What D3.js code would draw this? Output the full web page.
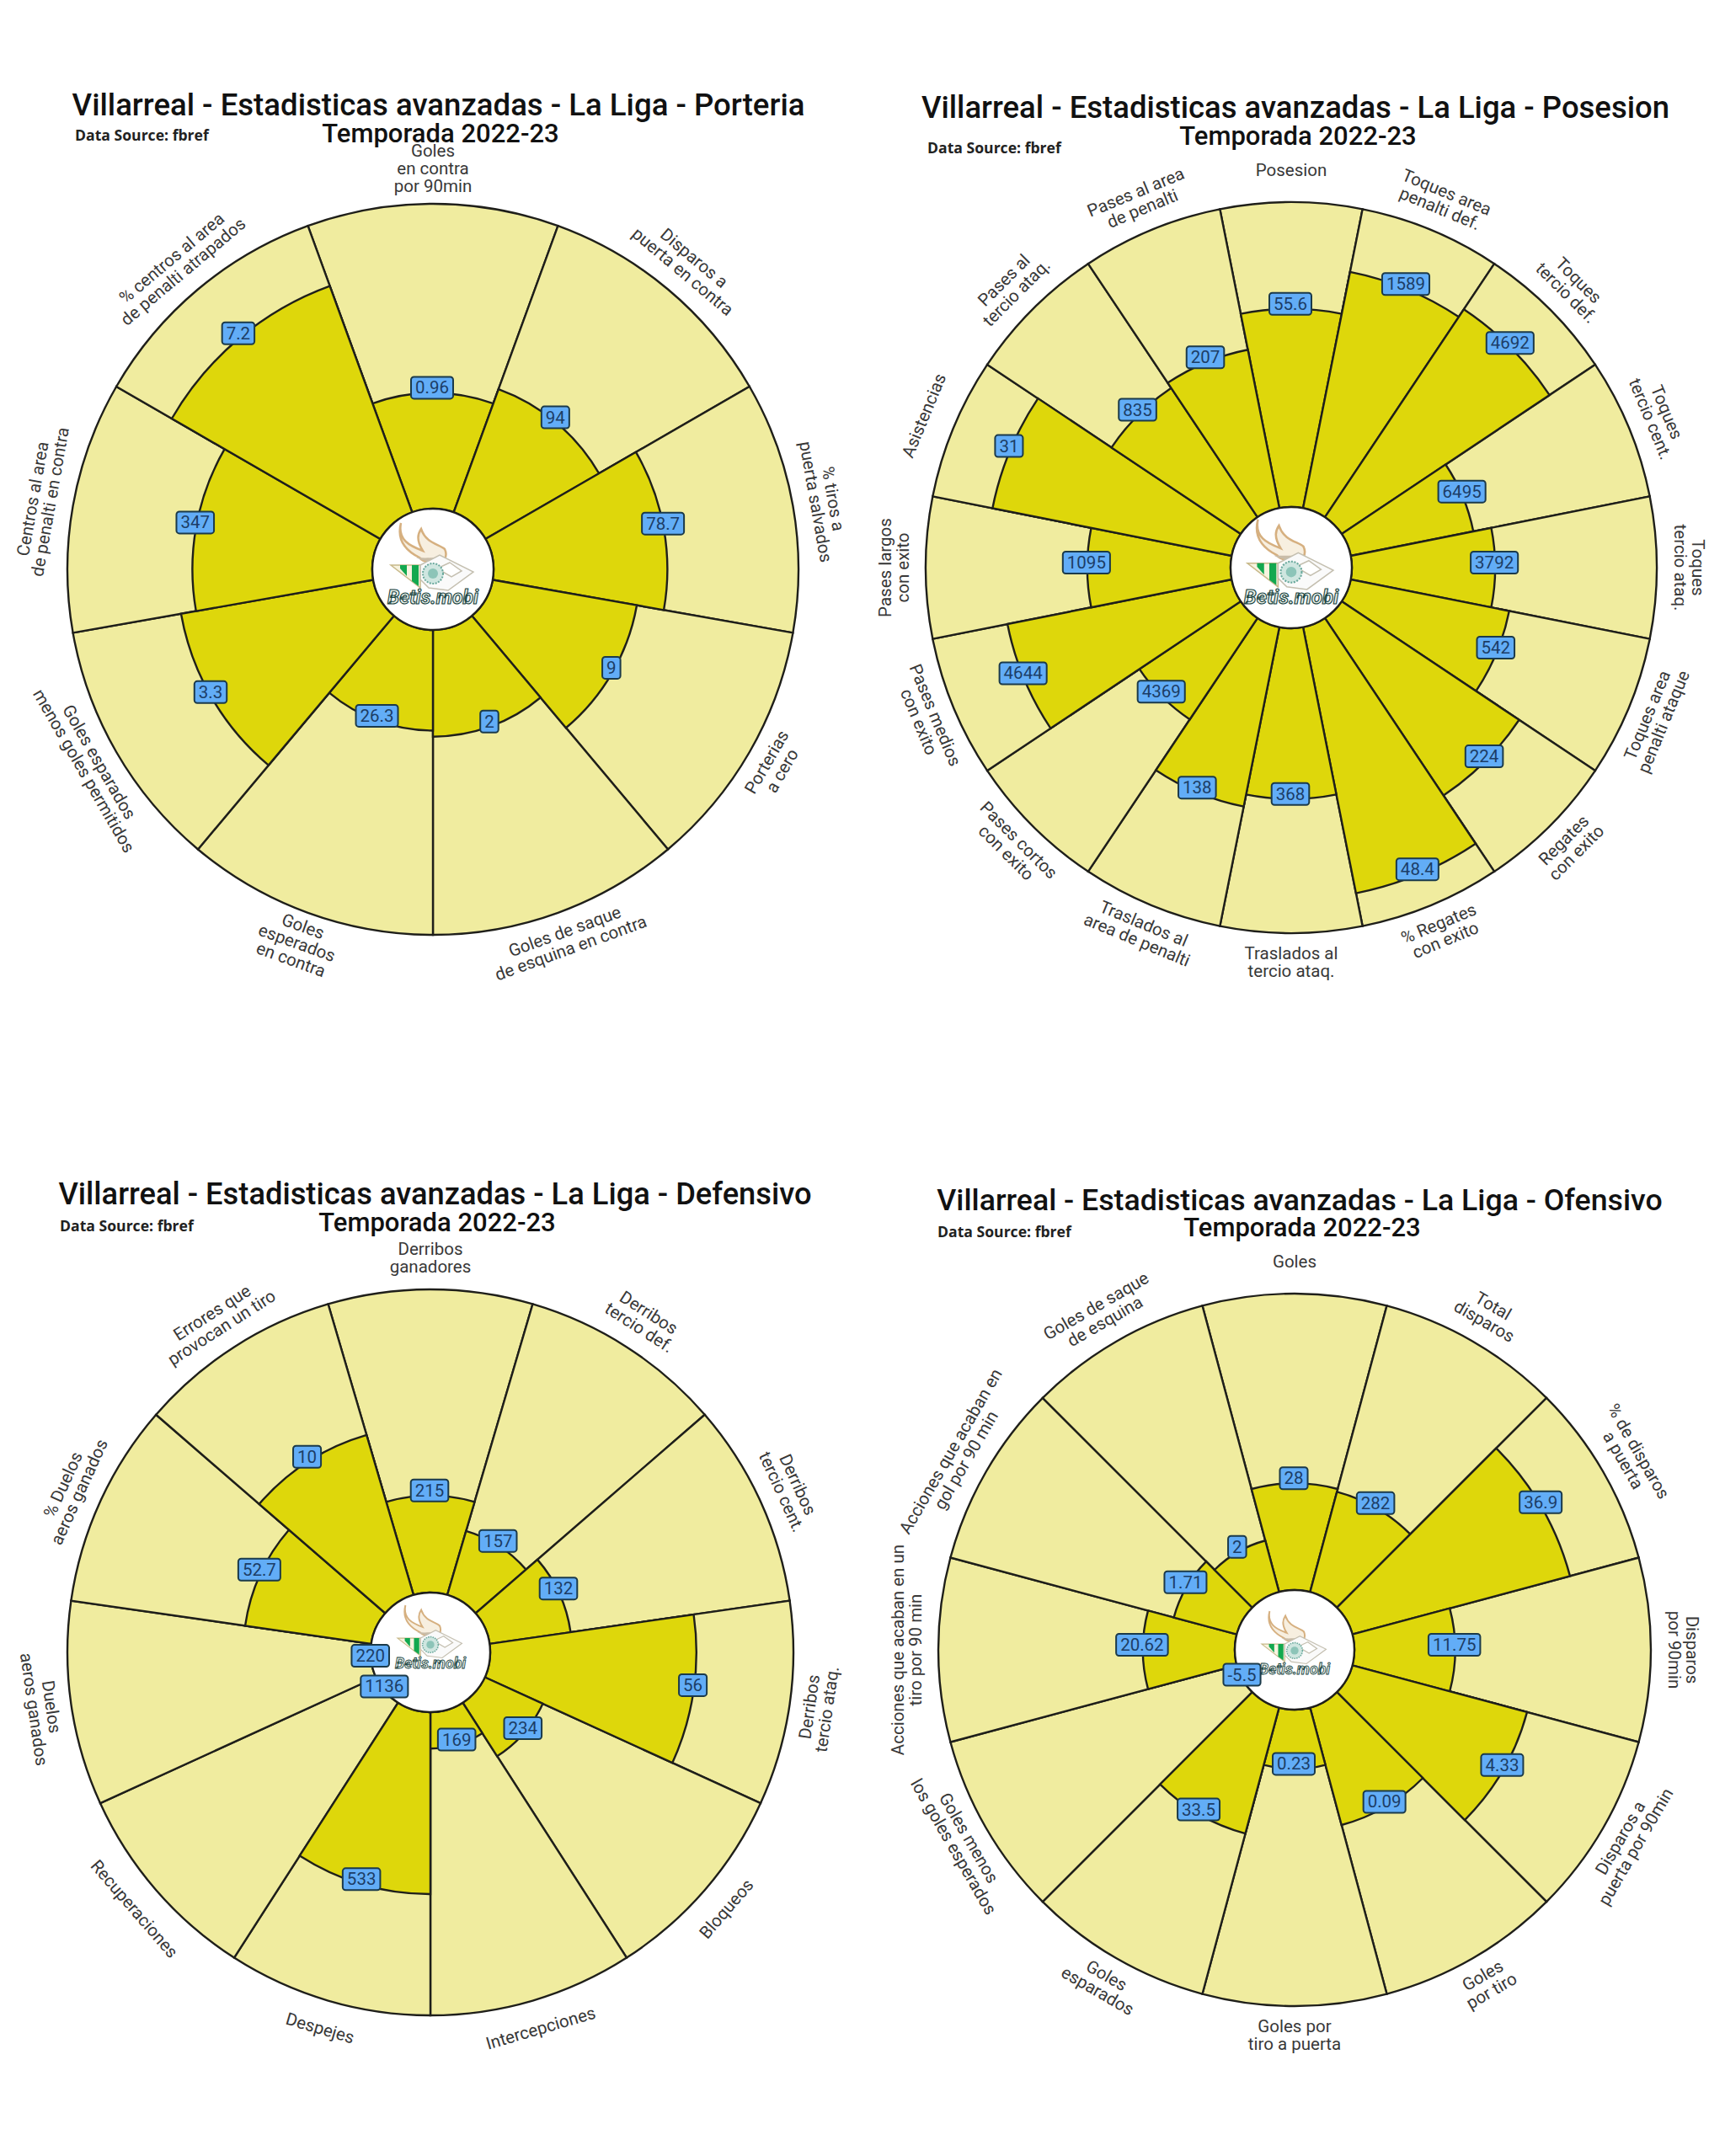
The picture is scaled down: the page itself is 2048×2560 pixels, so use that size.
<!DOCTYPE html>
<meta charset="utf-8">
<style>
  body { margin: 0; background: #fff; }
  svg text { font-family: Roboto, sans-serif; }
  .title { font-weight: 500; fill: #111; text-anchor: middle; }
  .subtitle { font-size: 31px; font-weight: 500; fill: #111; text-anchor: middle; }
  .source { font-family: "Open Sans", sans-serif !important; font-size: 17.6px; font-weight: 700; fill: #222; }
  .param { font-size: 20.5px; fill: #383838; text-anchor: middle; }
  .value { font-size: 20.5px; fill: #1c3d66; text-anchor: middle; dominant-baseline: central; }
</style>
<body>
<div id="vis"></div>
<script src="https://cdn.jsdelivr.net/npm/d3@7"></script>
<script>

const width = 2048,
    height = 2560;

const lightYellow = '#f0ec9f';
const darkYellow = '#ded70b';
const lineColor = '#1f1f1a';
const boxBlue = '#62adf7';

// slice labels run clockwise from the top, "\n" breaks the line
const porteriaParams = ['Goles\nen contra\npor 90min', 'Disparos a\npuerta en contra', '% tiros a\npuerta salvados',
  'Porterias\na cero', 'Goles de saque\nde esquina en contra', 'Goles\nesperados\nen contra',
  'Goles esparados\nmenos goles permitidos', 'Centros al area\nde penalti en contra', '% centros al area\nde penalti atrapados'];
const porteriaValues = ['0.96', '94', '78.7', '9', '2', '26.3', '3.3', '347', '7.2'];
const porteriaRanks = [38, 43, 57, 48, 35, 33, 64, 59, 79];

const posesionParams = ['Posesion', 'Toques area\npenalti def.', 'Toques\ntercio def.', 'Toques\ntercio cent.',
  'Toques\ntercio ataq.', 'Toques area\npenalti ataque', 'Regates\ncon exito', '% Regates\ncon exito',
  'Traslados al\ntercio ataq.', 'Traslados al\narea de penalti', 'Pases cortos\ncon exito', 'Pases medios\ncon exito',
  'Pases largos\ncon exito', 'Asistencias', 'Pases al\ntercio ataq.', 'Pases al area\nde penalti'];
const posesionValues = ['55.6', '1589', '4692', '6495', '3792', '542', '224', '48.4', '368', '138', '4369', '4644', '1095', '31', '835', '207'];
const posesionRanks = [65, 79, 82, 41, 47, 53, 70, 89, 56, 60, 40, 75, 47, 80, 51, 53];

const defensivoParams = ['Derribos\nganadores', 'Derribos\ntercio def.', 'Derribos\ntercio cent.', 'Derribos\ntercio ataq.',
  'Bloqueos', 'Intercepciones', 'Despejes', 'Recuperaciones', 'Duelos\naeros ganados', '% Duelos\naeros ganados',
  'Errores que\nprovocan un tiro'];
const defensivoValues = ['215', '157', '132', '56', '234', '169', '533', '1136', '220', '52.7', '10'];
const defensivoRanks = [32, 22, 27, 68, 21, 12, 60, 0, 0, 42, 55];

const ofensivoParams = ['Goles', 'Total\ndisparos', '% de disparos\na puerta', 'Disparos\npor 90min',
  'Disparos a\npuerta por 90min', 'Goles\npor tiro', 'Goles por\ntiro a puerta', 'Goles\nesparados',
  'Goles menos\nlos goles esperados', 'Acciones que acaban en un\ntiro por 90 min',
  'Acciones que acaban en\ngol por 90 min', 'Goles de saque\nde esquina'];
const ofensivoValues = ['28', '282', '36.9', '11.75', '4.33', '0.09', '0.23', '33.5', '-5.5', '20.62', '1.71', '2'];
const ofensivoRanks = [36, 35, 76, 34, 61, 41, 20, 44, 0, 31, 22, 18];

const svg = d3.select('#vis')
    .append('svg')
    .attr('width', width)
    .attr('height', height);

svg.append('rect')
    .attr('width', width)
    .attr('height', height)
    .attr('fill', '#fff');

// rough redraw of the club badge, drawn around 0,0
const drawLogo = (g, scale, dy) => {
  const logo = g.append('g').attr('transform', 'translate(0,' + dy + ') scale(' + scale + ')');
  const flame = 'M-38,-55C-42,-35 -28,-28 -12,-22C-20,-35 -18,-42 -14,-48C-8,-30 8,-30 14,-24C16,-20 16,-16 14,-12'
    + 'C6,-6 -12,-8 -16,-14C-28,-20 -44,-32 -38,-55Z';
  logo.append('path').attr('d', flame).attr('fill', '#f7efe0').attr('stroke', '#d6b080').attr('stroke-width', 2.5);
  logo.append('path').attr('d', 'M-20,-14C-8,-7 10,-8 15,-15C8,-14 -8,-13 -20,-14Z').attr('fill', '#c9bca8');
  logo.append('path').attr('d', 'M-50,-5L-15,-5L-15,22Z').attr('fill', '#f7f3df').attr('stroke', '#c8b98a').attr('stroke-width', 1.5);
  logo.append('path').attr('d', 'M-39,-5L-31,-5L-31,8L-39,-1ZM-25,-5L-17,-5L-17,20L-25,14Z').attr('fill', '#12a84f');
  logo.append('path').attr('d', 'M-15,-5L8,-17L48,3L18,25L-5,22L-15,12Z M20,-8L5,-1L22,9L34,2Z')
    .attr('fill', '#fafafa').attr('fill-rule', 'evenodd').attr('stroke', '#c4bfb0').attr('stroke-width', 1.5);
  logo.append('circle').attr('cx', 0).attr('cy', 5).attr('r', 12).attr('fill', '#cfe6e0')
    .attr('stroke', '#6aa99d').attr('stroke-width', 2).attr('stroke-dasharray', '2,1.5');
  logo.append('circle').attr('cx', 0).attr('cy', 5).attr('r', 6).attr('fill', '#8cc4b8');
  logo.append('text')
      .attr('y', 41)
      .attr('text-anchor', 'middle')
      .attr('font-size', 23)
      .attr('font-style', 'italic')
      .attr('font-weight', 700)
      .attr('fill', '#e8efe8')
      .attr('stroke', '#17433f')
      .attr('stroke-width', 1.1)
      .text('Betis.mobi');
};

const drawPizza = (opt) => {
  const n = opt.params.length;
  const step = 2 * Math.PI / n;
  const g = svg.append('g').attr('transform', 'translate(' + opt.cx + ',' + opt.cy + ')');
  const r = d3.scaleLinear().domain([0, 100]).range([opt.inner, opt.radius]);
  const arc = d3.arc().innerRadius(opt.inner);
  const slices = opt.params.map((p, i) => ({
    param: p,
    value: opt.values[i],
    rank: opt.ranks[i],
    mid: i * step,
    startAngle: i * step - step / 2,
    endAngle: i * step + step / 2
  }));

  g.selectAll('.slice')
    .data(slices)
    .enter().append('path')
    .attr('class', 'slice')
    .attr('d', d => arc({...d, outerRadius: r(100)}))
    .attr('fill', lightYellow)
    .attr('stroke', lineColor)
    .attr('stroke-width', 2.4);

  g.selectAll('.bar')
    .data(slices)
    .enter().append('path')
    .attr('class', 'bar')
    .attr('d', d => arc({...d, outerRadius: r(d.rank)}))
    .attr('fill', darkYellow)
    .attr('stroke', lineColor)
    .attr('stroke-width', 2.4);

  g.append('circle')
    .attr('r', opt.inner)
    .attr('fill', '#fff')
    .attr('stroke', lineColor)
    .attr('stroke-width', 2.4);
  drawLogo(g, opt.logoScale, opt.logoDy);

  // value boxes sit on the end of each bar, a little high, and stay level
  const boxes = g.selectAll('.value-box')
    .data(slices)
    .enter().append('g')
    .attr('class', 'value-box')
    .attr('transform', d => 'translate(' + (r(d.rank) * Math.sin(d.mid) - 1) + ',' + (-r(d.rank) * Math.cos(d.mid) - 6) + ')');
  const texts = boxes.append('text')
    .attr('class', 'value')
    .text(d => d.value);
  boxes.insert('rect', 'text')
    .each(function(d, i) {
      const w = texts.nodes()[i].getComputedTextLength() + 10;
      d3.select(this)
        .attr('x', -w / 2)
        .attr('y', -13)
        .attr('width', w)
        .attr('height', 26)
        .attr('rx', 3.5);
    })
    .attr('fill', boxBlue)
    .attr('stroke', '#1b3a4a')
    .attr('stroke-width', 2);

  // labels follow the rim, flipped on the lower half so they read upright
  const labels = g.selectAll('.param')
    .data(slices)
    .enter().append('text')
    .attr('class', 'param')
    .attr('transform', d => {
      const deg = d.mid * 180 / Math.PI;
      const rot = deg > 90 && deg < 270 ? deg - 180 : deg > 180 ? deg - 360 : deg;
      // three line labels stand a bit further out
      const lr = opt.radius + (d.param.split('\n').length > 2 ? 40 : 36);
      return 'translate(' + (lr * Math.sin(d.mid)) + ',' + (-lr * Math.cos(d.mid)) + ') rotate(' + rot + ')';
    });
  labels.each(function(d) {
    const lines = d.param.split('\n');
    d3.select(this).selectAll('tspan')
      .data(lines)
      .enter().append('tspan')
      .attr('x', 0)
      .attr('y', (l, i) => (i - (lines.length - 1) / 2) * 21 + 5)
      .text(l => l);
  });

  svg.append('text').attr('class', 'title').attr('x', opt.titleX).attr('y', opt.titleY).style('font-size', opt.titleSize + 'px').text(opt.title);
  svg.append('text').attr('class', 'subtitle').attr('x', opt.subX).attr('y', opt.subY).text('Temporada 2022-23');
  svg.append('text').attr('class', 'source').attr('x', opt.srcX).attr('y', opt.srcY).text('Data Source: fbref');
};

drawPizza({
  params: porteriaParams, values: porteriaValues, ranks: porteriaRanks,
  cx: 514, cy: 676, radius: 434, inner: 72, logoScale: 1, logoDy: 0,
  title: 'Villarreal - Estadisticas avanzadas - La Liga - Porteria', titleSize: 36.6,
  titleX: 520.5, titleY: 137, subX: 523, subY: 169, srcX: 89, srcY: 167
});
drawPizza({
  params: posesionParams, values: posesionValues, ranks: posesionRanks,
  cx: 1533, cy: 674, radius: 434, inner: 72, logoScale: 1.04, logoDy: 0,
  title: 'Villarreal - Estadisticas avanzadas - La Liga - Posesion', titleSize: 36.5,
  titleX: 1538, titleY: 140, subX: 1541, subY: 172, srcX: 1101, srcY: 182
});
drawPizza({
  params: defensivoParams, values: defensivoValues, ranks: defensivoRanks,
  cx: 511, cy: 1962, radius: 431, inner: 71, logoScale: 0.78, logoDy: -13,
  title: 'Villarreal - Estadisticas avanzadas - La Liga - Defensivo', titleSize: 36.3,
  titleX: 516.5, titleY: 1430, subX: 519, subY: 1462, srcX: 71, srcY: 1462
});
drawPizza({
  params: ofensivoParams, values: ofensivoValues, ranks: ofensivoRanks,
  cx: 1537, cy: 1959, radius: 423, inner: 71, logoScale: 0.78, logoDy: -3,
  title: 'Villarreal - Estadisticas avanzadas - La Liga - Ofensivo', titleSize: 35.7,
  titleX: 1543, titleY: 1437, subX: 1546, subY: 1468, srcX: 1113, srcY: 1469
});

</script>
</body>
